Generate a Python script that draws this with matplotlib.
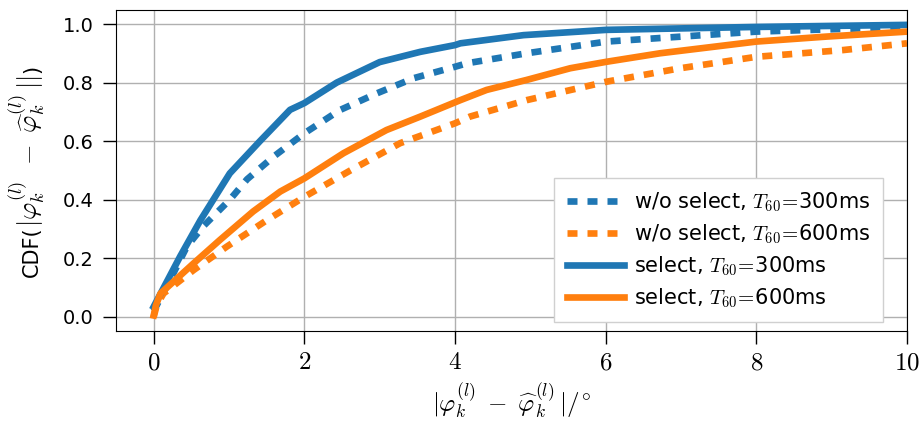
import matplotlib
matplotlib.use("Agg")
import matplotlib.pyplot as plt

plt.rcParams['mathtext.fontset'] = 'cm'
plt.rcParams['font.family'] = 'DejaVu Sans'

# CDF curves (x in degrees, y = CDF)
x_sel300 = [0, 0.35, 0.62, 1.01, 1.41, 1.81, 2.0, 2.43, 3.0, 3.54, 4.0, 4.07, 4.91, 6.01, 8.0, 10]
y_sel300 = [0.035, 0.206, 0.33, 0.49, 0.60, 0.707, 0.73, 0.80, 0.87, 0.905, 0.928, 0.934, 0.962, 0.98, 0.99, 0.997]

x_wo300 = [0, 0.24, 0.44, 0.66, 1.01, 1.24, 1.59, 2.0, 2.47, 2.96, 3.45, 4.0, 4.16, 4.95, 6.01, 8.0, 10]
y_wo300 = [0.02, 0.138, 0.24, 0.31, 0.40, 0.47, 0.547, 0.627, 0.706, 0.763, 0.815, 0.854, 0.866, 0.90, 0.94, 0.974, 0.99]

x_sel600 = [0, 0.03, 0.09, 0.53, 0.88, 1.32, 1.68, 2.0, 2.52, 3.09, 3.54, 4.07, 4.42, 4.95, 5.53, 6.01, 6.72, 8.0, 8.93, 10]
y_sel600 = [0.005, 0.04, 0.08, 0.183, 0.263, 0.36, 0.428, 0.473, 0.559, 0.638, 0.684, 0.74, 0.775, 0.809, 0.849, 0.871, 0.90, 0.94, 0.957, 0.974]

x_wo600 = [0, 0.04, 0.13, 0.53, 0.97, 1.5, 2.0, 2.61, 3.27, 4.0, 4.2, 4.95, 6.01, 6.99, 8.0, 9.15, 10]
y_wo600 = [0.0, 0.04, 0.08, 0.16, 0.24, 0.33, 0.41, 0.50, 0.593, 0.661, 0.684, 0.74, 0.803, 0.849, 0.888, 0.911, 0.934]

xticks = [0, 2, 4, 6, 8, 10]
yticks = [0.0, 0.2, 0.4, 0.6, 0.8, 1.0]

blue = '#1f77b4'
orange = '#ff7f0e'

fig = plt.figure(figsize=(9.23, 4.23), dpi=100)
ax = fig.add_axes([0.1257, 0.2175, 0.857, 0.759])

lw = 4.8
ax.plot(x_wo300, y_wo300, color=blue, lw=lw, dashes=(1.5, 1.5),
        label=r'w/o select, $T_{60}\!=\!$300ms')
ax.plot(x_wo600, y_wo600, color=orange, lw=lw, dashes=(1.5, 1.5),
        label=r'w/o select, $T_{60}\!=\!$600ms')
ax.plot(x_sel300, y_sel300, color=blue, lw=lw,
        label=r'select, $T_{60}\!=\!$300ms')
ax.plot(x_sel600, y_sel600, color=orange, lw=lw,
        label=r'select, $T_{60}\!=\!$600ms')

ax.set_xlim(-0.5, 10)
ax.set_ylim(-0.048, 1.048)
ax.set_xticks(xticks)
ax.set_xticklabels([r'$%d$' % t for t in xticks], fontsize=18)
ax.set_yticks(yticks)
ax.set_yticklabels(['%.1f' % t for t in yticks], fontsize=14)
ax.tick_params(length=9.7, width=1)
ax.tick_params(axis='x', pad=4)
ax.tick_params(axis='y', pad=6.5)
ax.grid(True, color='#b0b0b0', lw=1)
ax.set_axisbelow(True)

ax.set_xlabel(r'$|\varphi_k^{(l)}\;-\;\widehat{\varphi}_k^{(l)}\,|/^{\circ}$',
              fontsize=18, labelpad=5)

ax.legend(loc='lower right', bbox_to_anchor=(0.9697, 0.028), borderaxespad=0,
          fontsize=15, fancybox=False, edgecolor='#d0d0d0', framealpha=1,
          handlelength=2.75, handletextpad=0.48, borderpad=0.6, labelspacing=0.4)

# y label: text part and math part at different sizes, chained upward
renderer = fig.canvas.get_renderer()
x0 = 38 / 923
y_px = 423 - 277
parts = [('CDF(', 15, -1),
         (r'$|\varphi_k^{(l)}\,\;-\;\widehat{\varphi}_k^{(l)}\,||$', 19, 3),
         (')', 15, 0)]
for s, fs, gap in parts:
    t = fig.text(x0, y_px / 423, s, fontsize=fs, rotation=90,
                 rotation_mode='anchor', ha='left', va='baseline')
    bb = t.get_window_extent(renderer)
    y_px = bb.y1 + gap

plt.savefig('out.png', dpi=100)
